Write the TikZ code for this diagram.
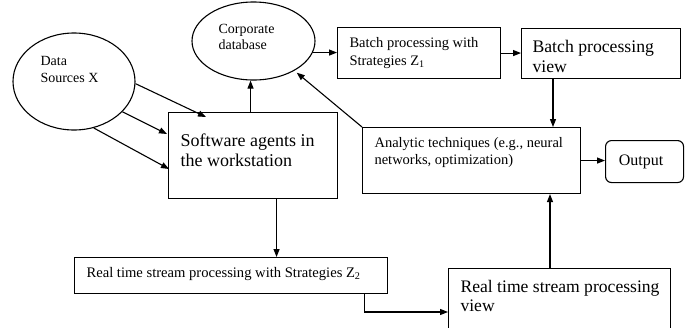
\documentclass[tikz,border=0pt]{standalone}
\usepackage{fontspec}
\setmainfont{Liberation Serif}
\usetikzlibrary{arrows.meta,shapes.geometric,calc}

\tikzset{
  box/.style={draw, rectangle, inner sep=0pt, anchor=north west},
  oval/.style={draw, ellipse, inner sep=0pt},
  % multi-line labels are placed by the baseline of their last line
  txt/.style={inner sep=0pt, anchor=base west, align=left},
  arr/.style={-{Triangle[length=8pt,width=6pt]}},
}

\begin{document}
\begin{tikzpicture}[x=1pt, y=-1pt, line width=1.1pt]
\useasboundingbox (0,0) rectangle (688,327);
\clip (0,0) rectangle (688,327);

% sources and storage
\node[oval, minimum width=122pt, minimum height=97pt] (ds) at (74,81.5) {};
\node[txt, font=\fontsize{14}{17}\selectfont] (dsT) at (40,82) {Data\\Sources X};

\node[oval, minimum width=123pt, minimum height=78pt] (cd) at (253.5,41) {};
\node[txt, font=\fontsize{14}{16}\selectfont] (cdT) at (218,49) {Corporate\\database};

% agents
\node[box, minimum width=169pt, minimum height=86pt] (sa) at (168,112) {};
\node[txt, font=\fontsize{18}{19.5}\selectfont] (saT) at (180,166) {Software agents in\\the workstation};

% batch layer
\node[box, minimum width=163pt, minimum height=51pt] (bz) at (337,27) {};
\node[txt, font=\fontsize{14.5}{17.5}\selectfont] (bzT) at (349,65) {Batch processing with\\Strategies Z\textsubscript{1}};

\node[box, minimum width=159pt, minimum height=50pt] (bv) at (521,28) {};
\node[txt, font=\fontsize{17.7}{20}\selectfont] (bvT) at (532,72) {Batch processing\\view};

% analytics and output
\node[box, minimum width=218pt, minimum height=66pt] (an) at (362,127) {};
\node[txt, font=\fontsize{14.5}{17}\selectfont] (anT) at (374,164) {Analytic techniques (e.g., neural\\networks, optimization)};

\node[box, rounded corners=6pt, minimum width=78pt, minimum height=42pt] (out) at (605,140) {};
\node[inner sep=0pt, anchor=base, font=\fontsize{16}{18}\selectfont] (outT) at (641,165) {Output};

% real time layer
\node[box, minimum width=313pt, minimum height=36pt] (rz) at (74,257) {};
\node[txt, font=\fontsize{14.6}{16}\selectfont] (rzT) at (86,277) {Real time stream processing with Strategies Z\textsubscript{2}};

\node[box, minimum width=222pt, minimum height=75pt] (rv) at (448,268) {};
\node[txt, font=\fontsize{17.6}{19}\selectfont] (rvT) at (460,311) {Real time stream processing\\view};

% connectors
\draw[arr] (ds.-2) -- ($(sa.north west)+(38,5)$);
\draw[arr] (ds.-32) -- ($(sa.north west)+(-1,22)$);
\draw[arr] (ds.-67) -- ($(sa.north west)+(1,57)$);

\draw[arr] ([xshift=-2.5pt]sa.north) -- ([xshift=-2.5pt]sa.north |- cd.south);
\draw[arr] (cd.-11.6) -- (cd.-11.6 -| bz.west);
\draw[arr] (bz.east) -- (bz.east -| bv.west);
\draw[arr] ([xshift=32pt]bv.south west) -- ([xshift=32pt]bv.south west |- an.north);
\draw[arr] (an.east) -- (an.east -| out.west);
\draw[arr, shorten >=3pt] (an.north west) -- (cd.-36);

\draw[arr] ([xshift=23.5pt]sa.south) -- ([xshift=23.5pt]sa.south |- rz.north);
\draw[arr] ([xshift=-24pt]rz.south east) |- ([yshift=-44pt]rv.north west);
\draw[arr] ([xshift=102pt]rv.north west) -- ([xshift=102pt]rv.north west |- an.south);
\end{tikzpicture}
\end{document}
